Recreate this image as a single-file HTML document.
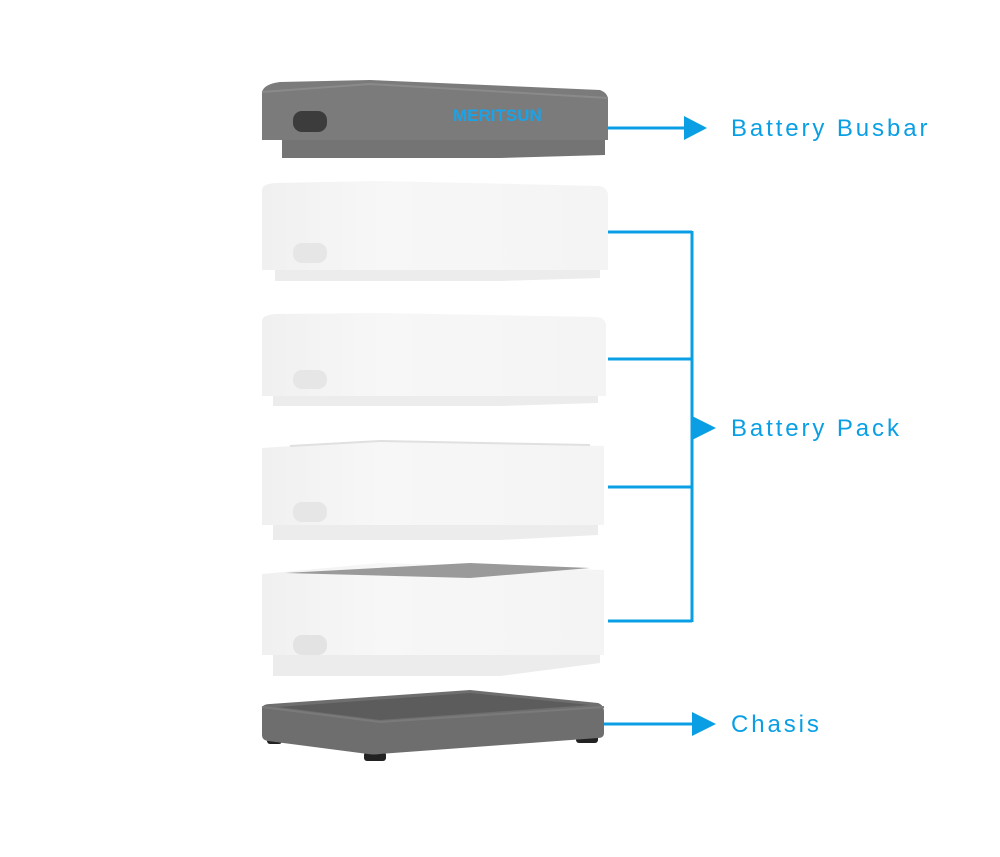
<!DOCTYPE html>
<html><head><style>
html,body{margin:0;padding:0;background:#fff;}
svg{display:block}
text{font-family:"Liberation Sans",sans-serif;}
</style></head><body>
<svg width="1000" height="857" viewBox="0 0 1000 857" xmlns="http://www.w3.org/2000/svg">
<defs>
<linearGradient id="wf" x1="0" x2="1" y1="0" y2="0"><stop offset="0" stop-color="#f0f0f0"/><stop offset="0.35" stop-color="#f7f7f7"/><stop offset="1" stop-color="#f4f4f4"/></linearGradient>
</defs>
<!-- Busbar -->
<path d="M282 140 H605 V155 L500 158 H282 Z" fill="#747474"/>
<path d="M262 92 Q264 84 280 82 L370 80 L600 90 Q608 93 608 100 V140 H262 Z" fill="#7b7b7b"/>
<path d="M262 92 L370 84 L608 98" stroke="#8a8a8a" stroke-width="2" fill="none"/>
<rect x="293" y="111" width="34" height="21" rx="9" fill="#3c3c3c"/>
<text x="453" y="121" font-size="17" font-weight="bold" fill="#1aa3e8" font-family="Liberation Sans, sans-serif">MERITSUN</text>
<text x="537" y="113" font-size="7" fill="#1aa3e8">®</text>
<!-- Pack 1 -->
<path d="M275 270 H600 V278 L500 281 H275 Z" fill="#ececec"/>
<path d="M262 190 Q262 184 275 183 L380 181 L600 186 Q608 188 608 196 V270 H262 Z" fill="url(#wf)"/>
<rect x="293" y="243" width="34" height="20" rx="9" fill="#e6e6e6"/>
<!-- Pack 2 -->
<path d="M273 396 H598 V403 L500 406 H273 Z" fill="#ececec"/>
<path d="M262 321 Q262 315 275 314 L380 313 L598 317 Q606 319 606 326 V396 H262 Z" fill="url(#wf)"/>
<rect x="293" y="370" width="34" height="19" rx="9" fill="#e6e6e6"/>
<!-- Pack 3 -->
<path d="M273 525 H598 V535 L500 540 H273 Z" fill="#ececec"/>
<path d="M262 448 L380 440 L604 446 V525 H262 Z" fill="url(#wf)"/>
<path d="M290 446 L380 441 L590 445" stroke="#e0e0e0" stroke-width="2" fill="none"/>
<rect x="293" y="502" width="34" height="20" rx="9" fill="#e6e6e6"/>
<!-- Pack 4 -->
<path d="M273 655 H600 V663 L500 676 H273 Z" fill="#ececec"/>
<path d="M262 574 L380 563 L604 570 V655 H262 Z" fill="url(#wf)"/>
<path d="M285 573 L470 563 L590 568 L470 578 Z" fill="#9a9a9a"/>
<rect x="293" y="635" width="34" height="20" rx="9" fill="#e3e3e3"/>
<!-- Chasis -->
<rect x="267" y="736" width="15" height="8" rx="3" fill="#222"/>
<rect x="364" y="752" width="22" height="9" rx="3" fill="#222"/>
<rect x="576" y="734" width="22" height="9" rx="3" fill="#222"/>
<path d="M262 709 Q262 704 270 704 L470 690 L598 703 Q604 705 604 712 V733 Q604 738 598 738 L380 754 Q374 755 368 754 L268 741 Q262 740 262 735 Z" fill="#6e6e6e"/>
<path d="M278 707 L470 693 L590 705 L380 720 Z" fill="#5c5c5c"/>
<path d="M262 707 L380 722 L604 707" stroke="#7a7a7a" stroke-width="2" fill="none"/>
<!-- connectors -->
<g stroke="#0a9fe4" stroke-width="3" fill="none">
<line x1="608" y1="128" x2="690" y2="128"/>
<line x1="608" y1="232" x2="692" y2="232"/>
<line x1="608" y1="359" x2="692" y2="359"/>
<line x1="608" y1="487" x2="692" y2="487"/>
<line x1="608" y1="621" x2="692" y2="621"/>
<line x1="692" y1="231" x2="692" y2="622"/>
<line x1="604" y1="724" x2="692" y2="724"/>
</g>
<g fill="#0a9fe4">
<polygon points="684,116 707,128 684,140"/>
<polygon points="692,416 716,428 692,440"/>
<polygon points="692,712 716,724 692,736"/>
</g>
<g fill="#0a9fe4" font-size="24" letter-spacing="2.9">
<text x="731" y="136">Battery Busbar</text>
<text x="731" y="436">Battery Pack</text>
<text x="731" y="732">Chasis</text>
</g>
</svg>
</body></html>
